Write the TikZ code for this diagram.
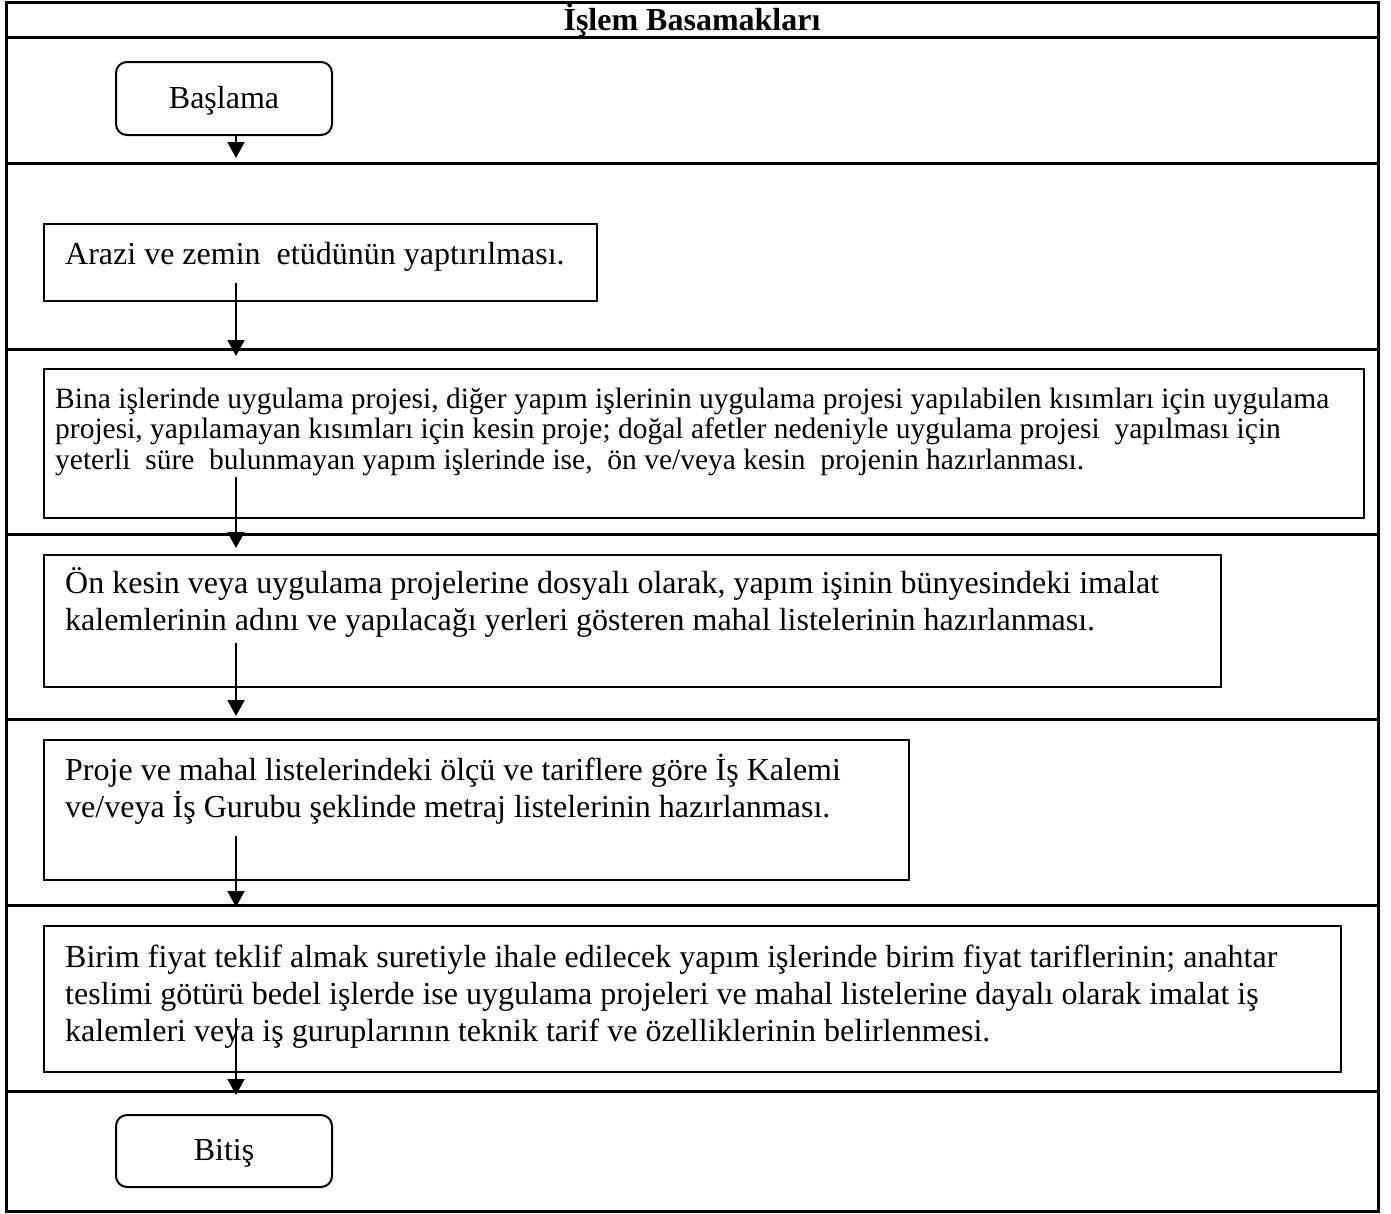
\documentclass[tikz,border=0pt]{standalone}
\usepackage{fontspec}
\setmainfont{Liberation Serif}
\usetikzlibrary{arrows.meta}
\begin{document}
\begin{tikzpicture}[x=1pt,y=-1pt,
  tbl/.style={line width=3pt},
  boxst/.style={draw, line width=2pt, anchor=north west, inner sep=0pt},
  termst/.style={draw, line width=2pt, rounded corners=11pt, inner sep=0pt, font=\fontsize{32}{37}\selectfont},
  txt/.style={anchor=base west, inner sep=0pt, font=\fontsize{32}{37}\selectfont},
  smalltxt/.style={anchor=base west, inner sep=0pt, font=\fontsize{29.5}{30.5}\selectfont},
  arr/.style={line width=2pt, -{Triangle[width=17pt,length=16pt]}}]
\useasboundingbox (0,0) rectangle (1391,1213);
% table
\draw[tbl] (6,2) rectangle (1378,1211);
\foreach \yy in {37,163,349,534,719,905,1091} {\draw[tbl] (6,\yy) -- (1378,\yy);}
\node[anchor=base, inner sep=0pt, font=\bfseries\fontsize{32}{37}\selectfont] (hdr) at (692,30) {İşlem Basamakları};
% start / end
\node[termst, minimum width=216pt, minimum height=73pt] (basla) at (224,98.5) {};
\node[anchor=base, inner sep=0pt, font=\fontsize{32}{37}\selectfont] (baslat) at (224,108) {Başlama};
\node[termst, minimum width=216pt, minimum height=72pt] (bitis) at (224,1151) {};
\node[anchor=base, inner sep=0pt, font=\fontsize{32}{37}\selectfont] (bitist) at (224,1160) {Bitiş};
% boxes
\node[boxst, minimum width=553pt, minimum height=77pt] (arazi) at (43,223) {};
\node[txt] (arazit) at (65,264) {Arazi ve zemin\ \ etüdünün yaptırılması.};
\node[boxst, minimum width=1320pt, minimum height=149pt] (bina) at (43,368) {};
\node[smalltxt] (binat) at (55,408) {\begin{tabular}[t]{@{}l@{}}Bina işlerinde uygulama projesi, diğer yapım işlerinin uygulama projesi yapılabilen kısımları için uygulama\\
projesi, yapılamayan kısımları için kesin proje; doğal afetler nedeniyle uygulama projesi\ \ yapılması için\\
yeterli\ \ süre\ \ bulunmayan yapım işlerinde ise,\ \ ön ve/veya kesin\ \ projenin hazırlanması.\end{tabular}};
\node[boxst, minimum width=1177pt, minimum height=132pt] (onkesin) at (43,554) {};
\node[txt] (onkesint) at (65,593) {\begin{tabular}[t]{@{}l@{}}Ön kesin veya uygulama projelerine dosyalı olarak, yapım işinin bünyesindeki imalat\\
kalemlerinin adını ve yapılacağı yerleri gösteren mahal listelerinin hazırlanması.\end{tabular}};
\node[boxst, minimum width=865pt, minimum height=140pt] (proje) at (43,739) {};
\node[txt] (projet) at (65,780) {\begin{tabular}[t]{@{}l@{}}Proje ve mahal listelerindeki ölçü ve tariflere göre İş Kalemi\\
ve/veya İş Gurubu şeklinde metraj listelerinin hazırlanması.\end{tabular}};
\node[boxst, minimum width=1297pt, minimum height=146pt] (birim) at (43,925) {};
\node[txt] (birimt) at (65,967) {\begin{tabular}[t]{@{}l@{}}Birim fiyat teklif almak suretiyle ihale edilecek yapım işlerinde birim fiyat tariflerinin; anahtar\\
teslimi götürü bedel işlerde ise uygulama projeleri ve mahal listelerine dayalı olarak imalat iş\\
kalemleri veya iş guruplarının teknik tarif ve özelliklerinin belirlenmesi.\end{tabular}};
% arrows
\coordinate (a1s) at (236,135); \coordinate (a1e) at (236,158);
\coordinate (a2s) at (236,283); \coordinate (a2e) at (236,356);
\coordinate (a3s) at (236,477); \coordinate (a3e) at (236,548);
\coordinate (a4s) at (236,643); \coordinate (a4e) at (236,716);
\coordinate (a5s) at (236,836); \coordinate (a5e) at (236,907);
\coordinate (a6s) at (236,1018); \coordinate (a6e) at (236,1095);
\draw[arr] (a1s) -- (a1e);
\draw[arr] (a2s) -- (a2e);
\draw[arr] (a3s) -- (a3e);
\draw[arr] (a4s) -- (a4e);
\draw[arr] (a5s) -- (a5e);
\draw[arr] (a6s) -- (a6e);
\end{tikzpicture}
\end{document}
